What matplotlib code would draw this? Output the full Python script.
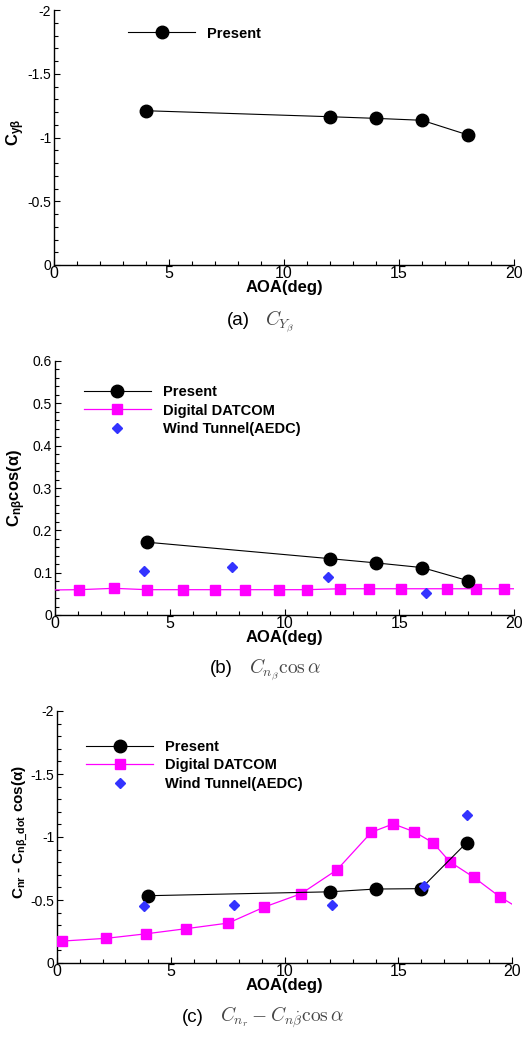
import matplotlib
matplotlib.use("Agg")
import matplotlib.pyplot as plt
from matplotlib.ticker import MultipleLocator, FuncFormatter

plt.rcParams['font.family'] = ['Liberation Sans', 'DejaVu Sans']
plt.rcParams['mathtext.fontset'] = 'custom'
plt.rcParams['mathtext.rm'] = 'Liberation Sans:bold'
plt.rcParams['mathtext.it'] = 'Liberation Sans:bold'
plt.rcParams['mathtext.bf'] = 'Liberation Sans:bold'
plt.rcParams['mathtext.sf'] = 'Liberation Sans:bold'

# ---------------- data ----------------
# (a) C_Y_beta
a_present_x = [4, 12, 14, 16, 18]
a_present_y = [-1.21, -1.163, -1.150, -1.135, -1.02]

# (b) C_n_beta cos(alpha)
b_present_x = [4, 12, 14, 16, 18]
b_present_y = [0.172, 0.133, 0.123, 0.112, 0.081]
b_datcom_x = [-0.4, 1.05, 2.57, 4.01, 5.56, 6.97, 8.28, 9.78, 10.97, 12.43, 13.70, 15.06, 17.10, 18.33, 19.55, 20.5]
b_datcom_y = [0.059, 0.0598, 0.063, 0.0598, 0.0598, 0.0598, 0.0598, 0.0598, 0.0598, 0.062, 0.062, 0.062, 0.062, 0.062, 0.062, 0.062]
b_wind_x = [3.88, 7.73, 11.91, 16.16]
b_wind_y = [0.1046, 0.1125, 0.0889, 0.0511]

# (c) C_nr - C_n_beta_dot cos(alpha)
c_present_x = [4, 12, 14, 16, 18]
c_present_y = [-0.534, -0.565, -0.587, -0.590, -0.954]
c_datcom_x = [0.23, 2.17, 3.93, 5.66, 7.53, 9.11, 10.73, 12.31, 13.82, 14.78, 15.71, 16.53, 17.27, 18.33, 19.46, 20.8]
c_datcom_y = [-0.174, -0.196, -0.232, -0.272, -0.317, -0.444, -0.550, -0.740, -1.038, -1.104, -1.041, -0.954, -0.803, -0.679, -0.526, -0.38]
c_wind_x = [3.82, 7.78, 12.09, 16.13, 18.04]
c_wind_y = [-0.454, -0.457, -0.462, -0.608, -1.178]

W, H = 523, 1037
fig = plt.figure(figsize=(W / 100, H / 100), dpi=100)


def px_axes(left, top, right, bottom):
    return fig.add_axes([left / W, 1 - bottom / H, (right - left) / W, (bottom - top) / H])


def fmt(v, pos):
    return '%g' % v


def style(ax, ymaj, ymin_step):
    ax.set_xlim(0, 20)
    ax.xaxis.set_major_locator(MultipleLocator(5))
    ax.xaxis.set_minor_locator(MultipleLocator(1))
    ax.yaxis.set_major_locator(MultipleLocator(ymaj))
    ax.yaxis.set_minor_locator(MultipleLocator(ymin_step))
    ax.yaxis.set_major_formatter(FuncFormatter(fmt))
    ax.xaxis.set_major_formatter(FuncFormatter(fmt))
    for s in ['top', 'right']:
        ax.spines[s].set_visible(False)
    for s in ['left', 'bottom']:
        ax.spines[s].set_linewidth(1.0)
    ax.tick_params(which='major', direction='in', length=4.5, width=0.8, labelsize=10, pad=2)
    ax.tick_params(which='minor', direction='in', length=3, width=0.8)
    ax.tick_params(axis='x', labelsize=11.5, pad=1)
    ax.set_xlabel('AOA(deg)', fontsize=12, fontweight='bold', labelpad=-1)


def caption(tag, math, x_tag_end, x_math, y_base):
    fig.text(x_tag_end / W, 1 - y_base / H, tag, fontsize=13.5, ha='right', va='baseline')
    fig.text(x_math / W, 1 - y_base / H, math, fontsize=14, ha='left', va='baseline',
             math_fontfamily='cm', color='#454545')


circ = dict(color='black', marker='o', markersize=9, linewidth=0.8, markerfacecolor='black',
            markeredgecolor='black')
sq = dict(color='#FF00FF', marker='s', markersize=7.5, linewidth=0.9, markerfacecolor='#FF00FF',
          markeredgecolor='#FF00FF')
dia = dict(linestyle='none', marker='D', markersize=5.4, markerfacecolor='#3333FF',
           markeredgecolor='#3333FF')

leg_kw = dict(frameon=False, prop={'weight': 'bold', 'size': 10.5},
              handlelength=4.6, handletextpad=0.8, labelspacing=0.3, borderpad=0,
              borderaxespad=0, loc='upper left')

# ---------- (a) ----------
ax1 = px_axes(54, 10, 514, 265)
ax1.plot(a_present_x, a_present_y, label='Present', **circ)
style(ax1, 0.5, 0.1)
ax1.set_ylim(0, -2)
ax1.set_ylabel(r'C$_{y\beta}$', fontsize=12, fontweight='bold', va='center')
ax1.yaxis.set_label_coords(-0.083, 0.52)
ax1.legend(bbox_to_anchor=(0.161, 0.935), **leg_kw)
caption('(a)', r'$C_{Y_\beta}$', 250, 265, 325)

# ---------- (b) ----------
ax2 = px_axes(55, 361, 514, 615)
ax2.plot(b_present_x, b_present_y, label='Present', zorder=4, **circ)
ax2.plot(b_datcom_x, b_datcom_y, label='Digital DATCOM', zorder=3, **sq)
ax2.plot(b_wind_x, b_wind_y, label='Wind Tunnel(AEDC)', zorder=5, **dia)
style(ax2, 0.1, 0.02)
ax2.set_ylim(0, 0.6)
ax2.set_ylabel(r'C$_{n\beta}$cos($\alpha$)', fontsize=12, fontweight='bold', va='center')
ax2.yaxis.set_label_coords(-0.083, 0.5)
ax2.legend(bbox_to_anchor=(0.063, 0.905), **leg_kw)
caption('(b)', r'$C_{n_\beta}\cos\alpha$', 233, 249, 673)

# ---------- (c) ----------
ax3 = px_axes(57, 711, 512, 963)
ax3.plot(c_present_x, c_present_y, label='Present', zorder=4, **circ)
ax3.plot(c_datcom_x, c_datcom_y, label='Digital DATCOM', zorder=3, **sq)
ax3.plot(c_wind_x, c_wind_y, label='Wind Tunnel(AEDC)', zorder=5, **dia)
style(ax3, 0.5, 0.1)
ax3.set_ylim(0, -2)
ax3.set_ylabel(r'C$_{nr}$ - C$_{n\beta\_dot}$ cos($\alpha$)', fontsize=11, fontweight='bold', va='center')
ax3.yaxis.set_label_coords(-0.081, 0.52)
ax3.legend(bbox_to_anchor=(0.064, 0.885), **leg_kw)
caption('(c)', r'$C_{n_r} - C_{n\dot{\beta}}\cos\alpha$', 204, 220, 1022)

fig.savefig('out.png', dpi=100)
